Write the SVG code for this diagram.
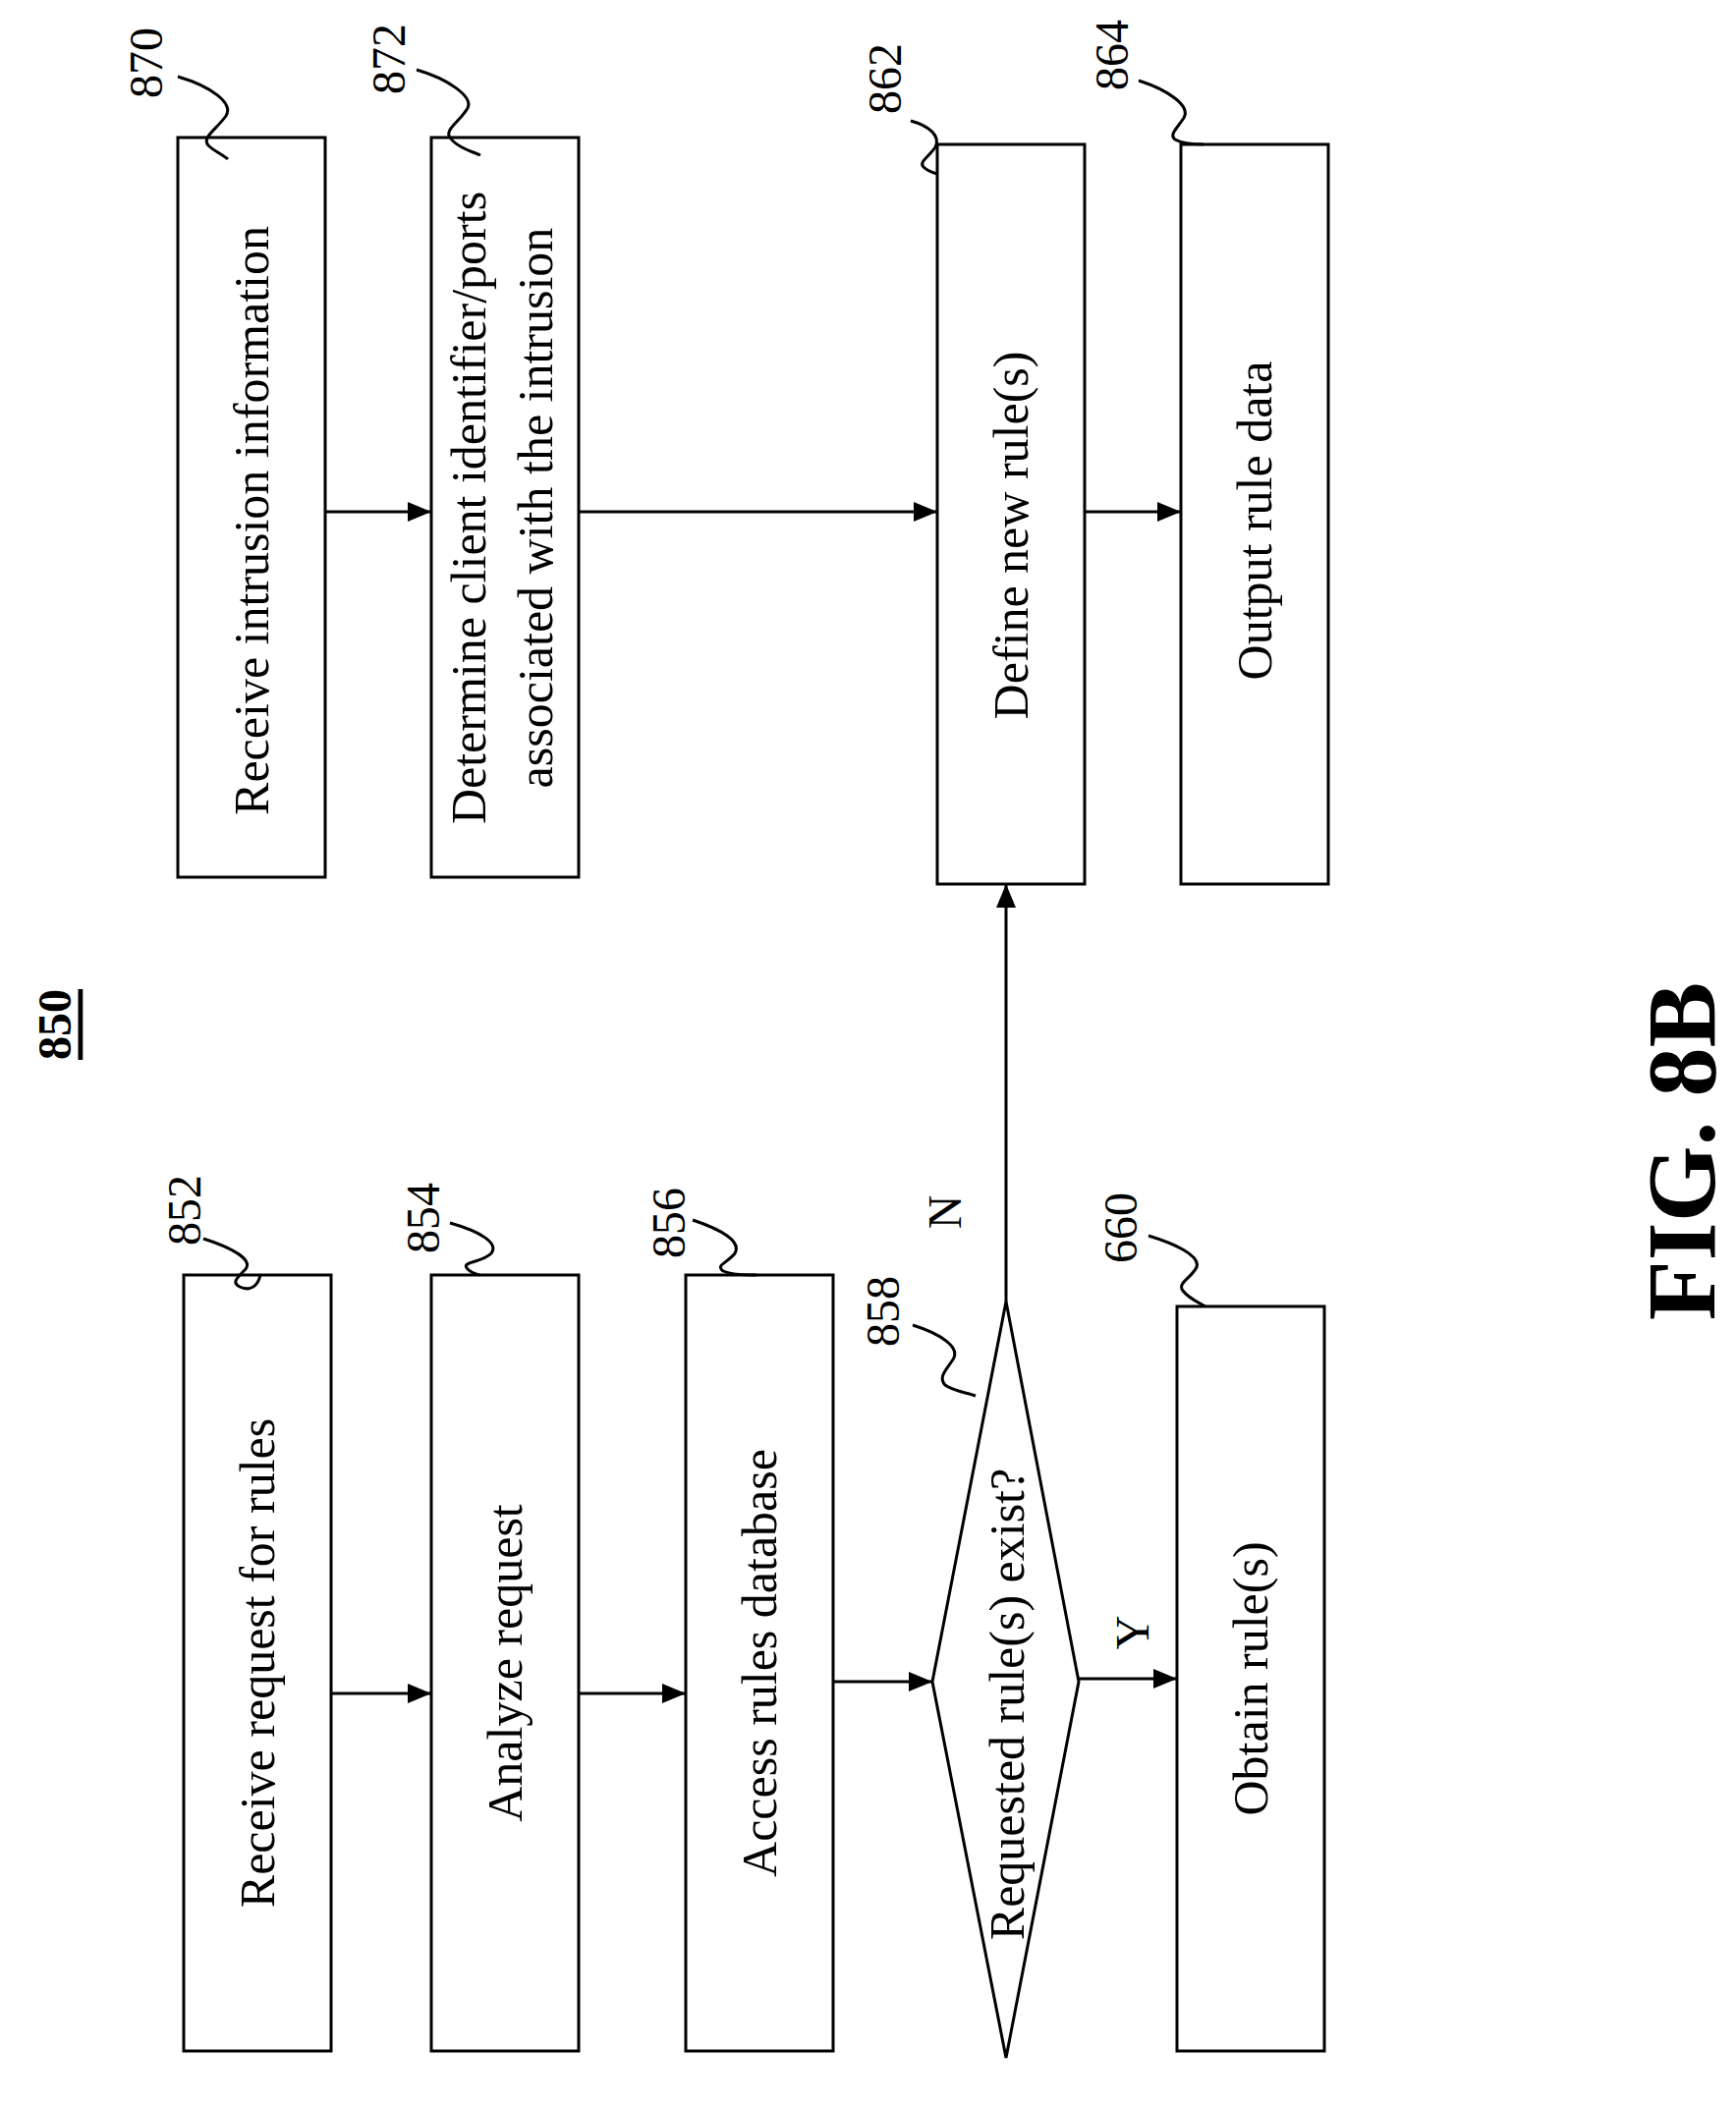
<svg xmlns="http://www.w3.org/2000/svg" width="1767" height="2144" viewBox="0 0 1767 2144">
<style>
.b{fill:#fff;stroke:#000;stroke-width:3}
.t{font-family:"Liberation Serif",serif;font-size:50px;text-anchor:middle;dominant-baseline:central}
.n{font-family:"Liberation Serif",serif;font-size:48px;text-anchor:middle;dominant-baseline:central}
.c{fill:none;stroke:#000;stroke-width:3}
.s{fill:none;stroke:#000;stroke-width:3}
</style>
<defs>
<marker id="ah" markerWidth="24" markerHeight="20" refX="24" refY="10" orient="auto" markerUnits="userSpaceOnUse"><path d="M0,0 L24,10 L0,20 z" fill="#000"/></marker></defs>
<rect width="1767" height="2144" fill="#fff"/>
<g id="label850"><text class="n" font-weight="bold" transform="rotate(-90 55 1043)" x="55" y="1043" text-decoration="underline">850</text></g>
<g id="fig"><text transform="rotate(-90 1711 1172)" x="1711" y="1172" font-family="Liberation Serif,serif" font-weight="bold" font-size="100" text-anchor="middle" dominant-baseline="central">FIG. 8B</text></g>
<g id="n870"><rect class="b" x="181" y="140" width="150" height="753"/><text class="t" x="256" y="530" transform="rotate(-90 256 530)">Receive intrusion information</text><text class="n" x="148" y="64" transform="rotate(-90 148 64)">870</text><path class="s" d="M181,78 C215,88 238,105 230,118 C220,132 205,140 212,148 C218,154 228,158 232,162"/></g>
<g id="n872"><rect class="b" x="439" y="140" width="150" height="753"/><text class="t" transform="rotate(-90 514 517)"><tspan x="514" y="480">Determine client identifier/ports</tspan><tspan x="514" y="548">associated with the intrusion</tspan></text><text class="n" x="395" y="60" transform="rotate(-90 395 60)">872</text><path class="s" d="M424,71 C455,80 482,98 476,110 C468,124 452,132 458,140 C465,150 480,154 489,158"/></g>
<g id="n862"><rect class="b" x="954" y="147" width="150" height="753"/><text class="t" x="1029" y="545" transform="rotate(-90 1029 545)">Define new rule(s)</text><text class="n" x="900" y="80" transform="rotate(-90 900 80)">862</text><path class="s" d="M927,123 C945,128 958,138 952,150 C945,160 935,165 940,170 C944,174 950,176 954,177"/></g>
<g id="n864"><rect class="b" x="1202" y="147" width="150" height="753"/><text class="t" x="1277" y="530" transform="rotate(-90 1277 530)">Output rule data</text><text class="n" x="1131" y="56" transform="rotate(-90 1131 56)">864</text><path class="s" d="M1159,82 C1190,92 1212,108 1205,120 C1197,132 1190,137 1196,142 C1203,146 1213,147 1225,147"/></g>
<g id="n852"><rect class="b" x="187" y="1298" width="150" height="790"/><text class="t" x="262" y="1693" transform="rotate(-90 262 1693)">Receive request for rules</text><text class="n" x="187" y="1232" transform="rotate(-90 187 1232)">852</text><path class="s" d="M207,1261 C235,1270 258,1282 250,1292 C240,1302 236,1306 244,1310 C252,1314 262,1312 265,1298"/></g>
<g id="n854"><rect class="b" x="439" y="1298" width="150" height="790"/><text class="t" x="514" y="1693" transform="rotate(-90 514 1693)">Analyze request</text><text class="n" x="430" y="1240" transform="rotate(-90 430 1240)">854</text><path class="s" d="M458,1245 C490,1254 508,1266 500,1276 C490,1286 468,1284 476,1292 C480,1296 484,1297 488,1298"/></g>
<g id="n856"><rect class="b" x="698" y="1298" width="150" height="790"/><text class="t" x="773" y="1693" transform="rotate(-90 773 1693)">Access rules database</text><text class="n" x="680" y="1245" transform="rotate(-90 680 1245)">856</text><path class="s" d="M705,1242 C735,1252 755,1264 748,1276 C740,1286 728,1288 736,1294 C745,1298 760,1298 770,1298"/></g>
<g id="n858"><polygon class="b" points="1024,1325 1098,1712 1024,2095 949,1712"/><text class="t" x="1025" y="1735" transform="rotate(-90 1025 1735)">Requested rule(s) exist?</text><text class="n" x="898" y="1335" transform="rotate(-90 898 1335)">858</text><path class="s" d="M929,1349 C958,1358 978,1372 970,1384 C962,1396 955,1402 962,1410 C970,1416 985,1418 993,1421"/></g>
<g id="n660"><rect class="b" x="1198" y="1330" width="150" height="758"/><text class="t" x="1273" y="1709" transform="rotate(-90 1273 1709)">Obtain rule(s)</text><text class="n" x="1140" y="1250" transform="rotate(-90 1140 1250)">660</text><path class="s" d="M1169,1258 C1195,1266 1222,1278 1218,1290 C1212,1302 1198,1306 1204,1314 C1210,1322 1220,1326 1227,1330"/></g>
<g id="connectors">
<line class="c" x1="331" y1="521" x2="439" y2="521" marker-end="url(#ah)"/>
<line class="c" x1="589" y1="521" x2="954" y2="521" marker-end="url(#ah)"/>
<line class="c" x1="1104" y1="521" x2="1202" y2="521" marker-end="url(#ah)"/>
<line class="c" x1="337" y1="1724" x2="439" y2="1724" marker-end="url(#ah)"/>
<line class="c" x1="589" y1="1724" x2="698" y2="1724" marker-end="url(#ah)"/>
<line class="c" x1="848" y1="1712" x2="949" y2="1712" marker-end="url(#ah)"/>
<line class="c" x1="1098" y1="1709" x2="1198" y2="1709" marker-end="url(#ah)"/>
<line class="c" x1="1024" y1="1325" x2="1024" y2="900" marker-end="url(#ah)"/>
<text class="n" x="961" y="1234" transform="rotate(-90 961 1234)">N</text>
<text class="n" x="1152" y="1662" transform="rotate(-90 1152 1662)">Y</text>
</g>
</svg>
